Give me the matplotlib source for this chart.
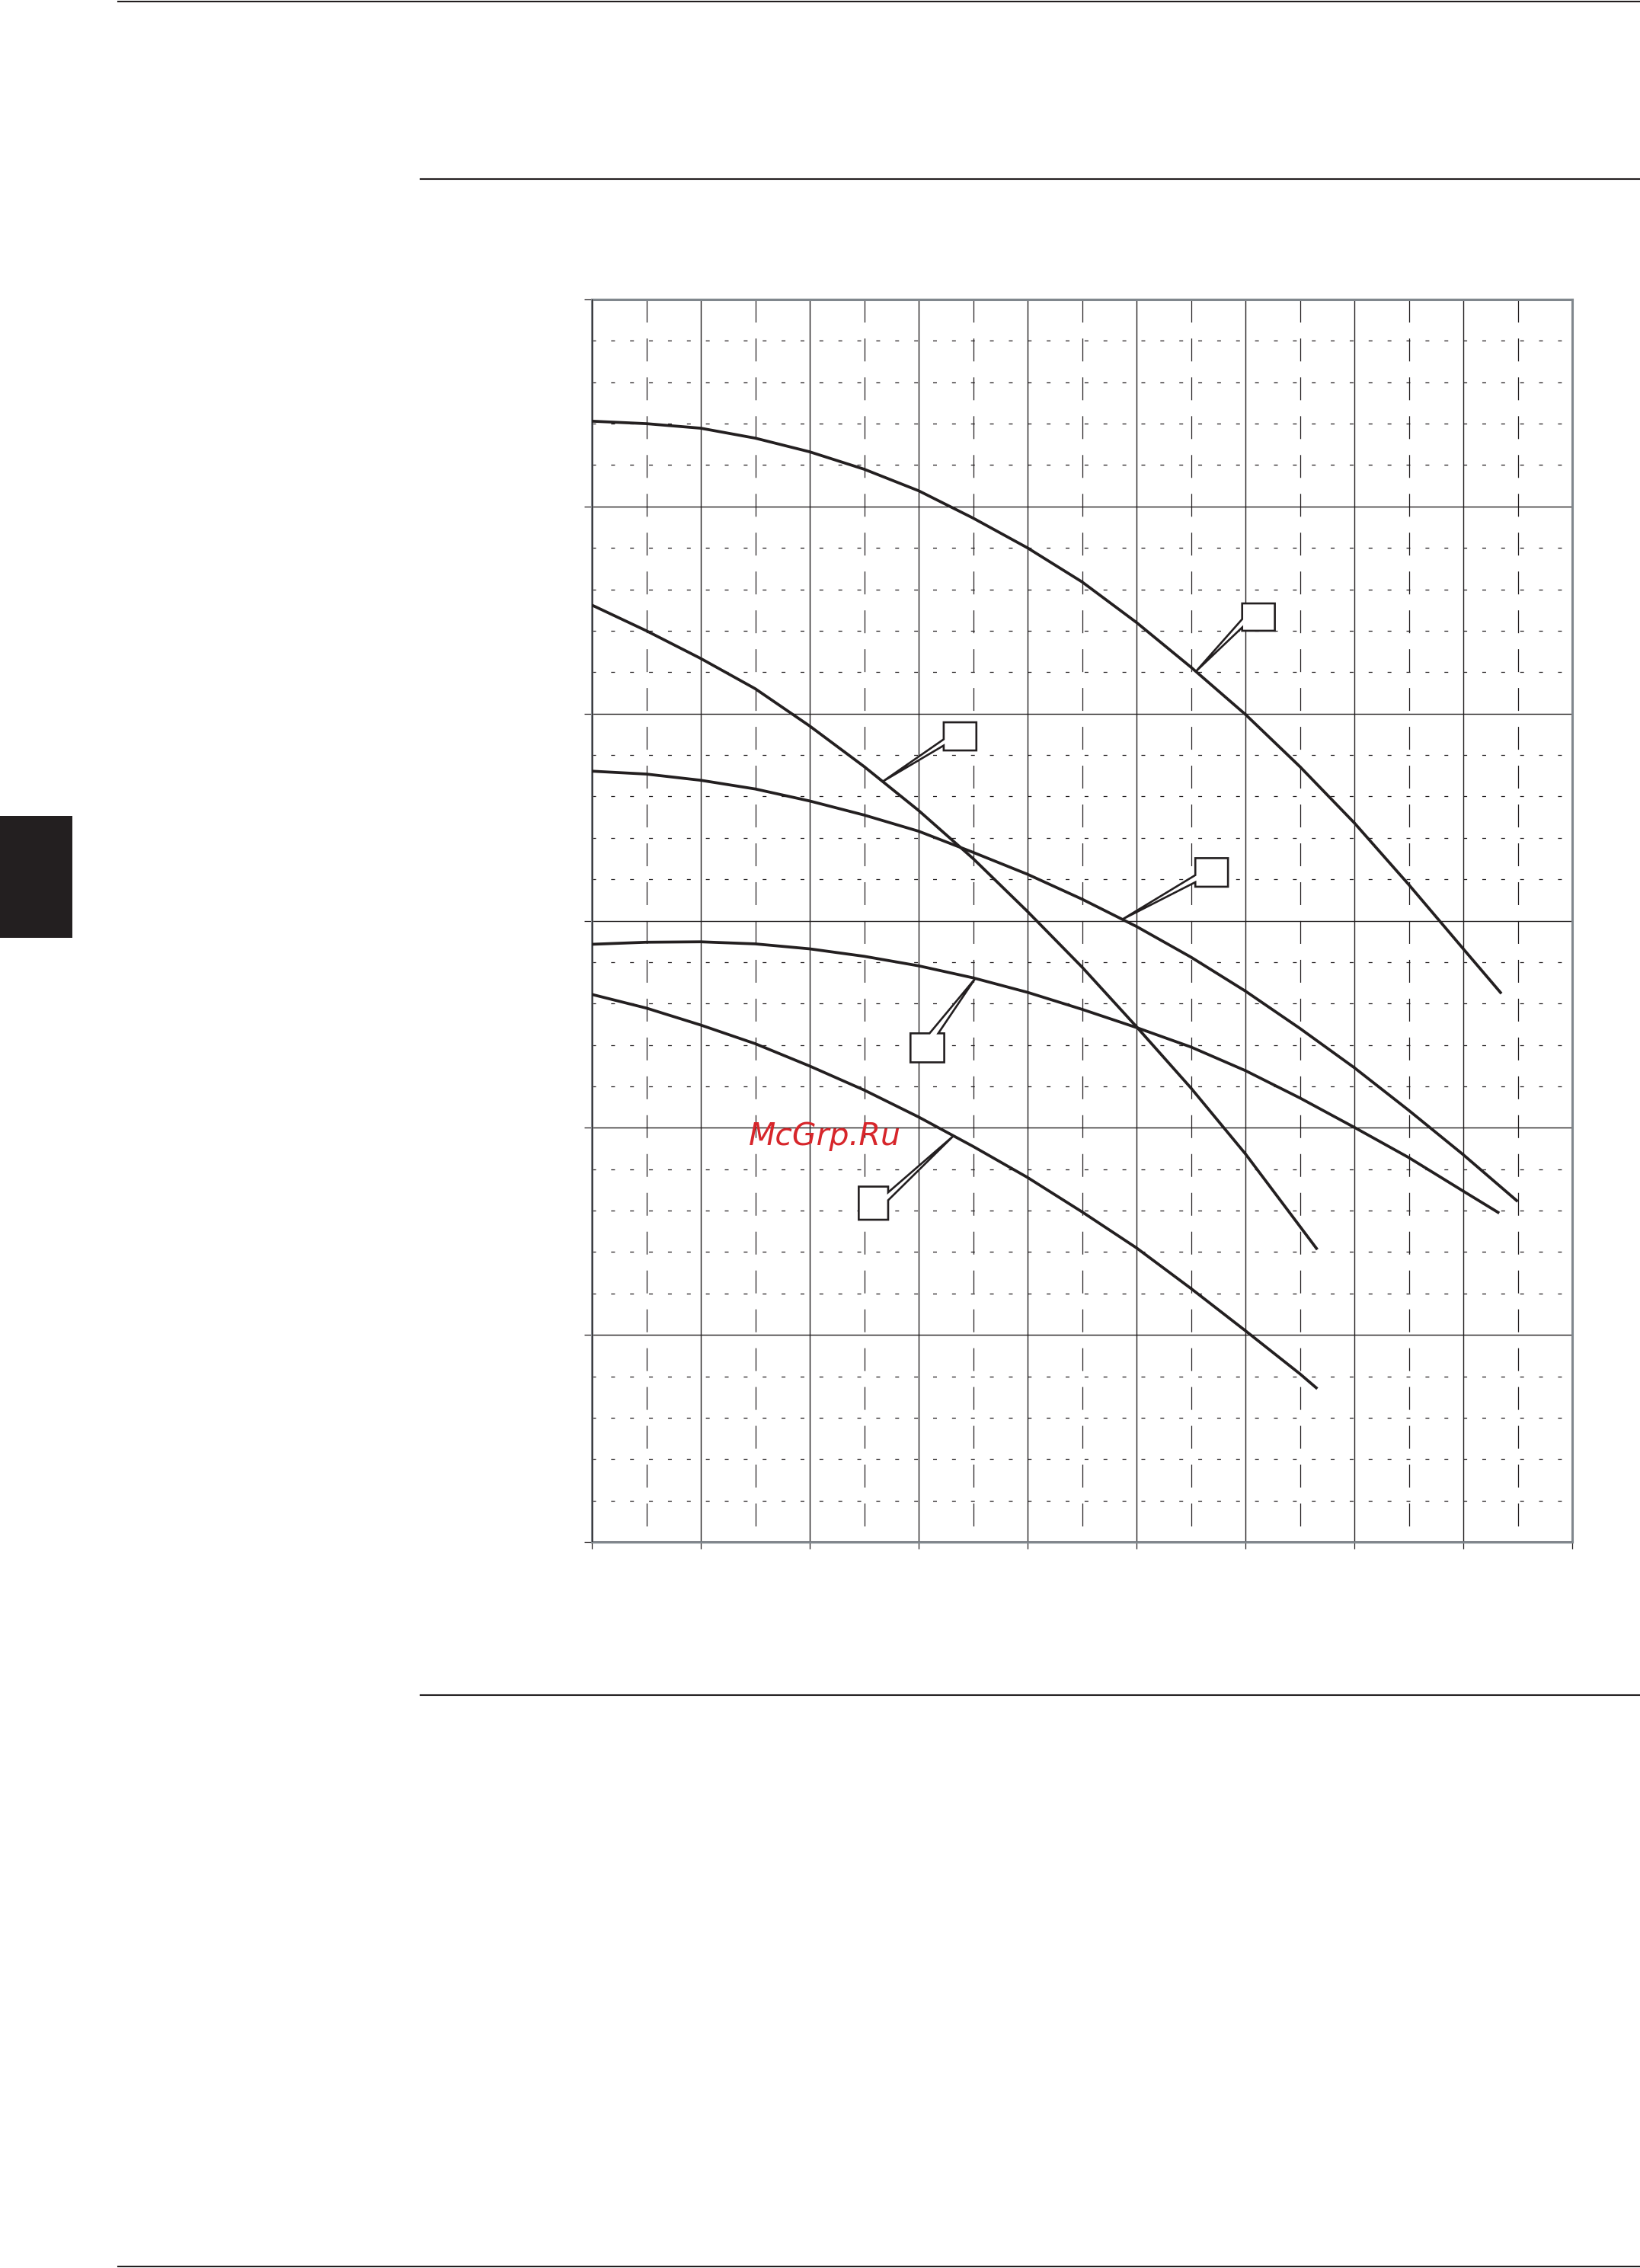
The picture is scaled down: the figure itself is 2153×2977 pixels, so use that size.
#!/usr/bin/env python3
"""Pump curves page: five falling curves on a fine grid, with empty callout boxes."""
import numpy as np
import matplotlib
matplotlib.use('Agg')
import matplotlib.pyplot as plt
from matplotlib.lines import Line2D
from matplotlib.patches import Polygon, Rectangle

plt.rcParams['lines.scale_dashes'] = False

INK = '#231f20'
SPINE = '#80878d'

# --- curve data (x in major divisions, y in minor divisions) ---
c1_x = [0, 0.5, 1.0, 1.5, 2.0, 2.5, 3.0, 3.5, 4.0, 4.5, 5.0, 5.5, 6.0, 6.5, 7.0, 7.5, 8.0, 8.35]
c1_y = [27.06, 27.0, 26.89, 26.65, 26.32, 25.9, 25.38, 24.72, 24.0, 23.18, 22.2, 21.12,
        19.98, 18.72, 17.36, 15.87, 14.32, 13.24]

c2_x = [0, 0.5, 1.0, 1.5, 2.0, 2.5, 3.0, 3.5, 4.0, 4.5, 5.0, 5.5, 6.0, 6.5, 6.66]
c2_y = [22.62, 22.0, 21.33, 20.6, 19.7, 18.72, 17.66, 16.5, 15.22, 13.88, 12.44, 10.96,
        9.37, 7.62, 7.06]

c3_x = [0, 0.5, 1.0, 1.5, 2.0, 2.5, 3.0, 3.5, 4.0, 4.5, 5.0, 5.5, 6.0, 6.5, 7.0, 7.5, 8.0, 8.5]
c3_y = [18.61, 18.54, 18.39, 18.18, 17.89, 17.55, 17.16, 16.65, 16.12, 15.52, 14.86, 14.12,
        13.3, 12.4, 11.45, 10.42, 9.35, 8.22]

c4_x = [0, 0.5, 1.0, 1.5, 2.0, 2.5, 3.0, 3.5, 4.0, 4.5, 5.0, 5.5, 6.0, 6.5, 7.0, 7.5, 8.0, 8.33]
c4_y = [14.43, 14.48, 14.49, 14.44, 14.32, 14.14, 13.91, 13.62, 13.27, 12.86, 12.42, 11.95,
        11.38, 10.72, 10.01, 9.28, 8.47, 7.94]

c5_x = [0, 0.5, 1.0, 1.5, 2.0, 2.5, 3.0, 3.5, 4.0, 4.5, 5.0, 5.5, 6.0, 6.5, 6.66]
c5_y = [13.22, 12.89, 12.48, 12.03, 11.49, 10.91, 10.26, 9.55, 8.8, 7.97, 7.1, 6.12,
        5.1, 4.06, 3.70]

curves = [(c1_x, c1_y), (c2_x, c2_y), (c3_x, c3_y), (c4_x, c4_y), (c5_x, c5_y)]

# callout: curve index, tip x, box (x0, x1, y0, y1), side the tail leaves from, two attach coords
callouts = [
    (0, 5.545, (5.97, 6.27, 22.0, 22.66), 'left', (22.08, 22.28)),
    (1, 2.67, (3.23, 3.53, 19.11, 19.79), 'left', (19.23, 19.38)),
    (2, 4.87, (5.54, 5.84, 15.82, 16.51), 'left', (15.93, 16.10)),
    (3, 3.52, (2.925, 3.235, 11.58, 12.28), 'top', (3.10, 3.18)),
    (4, 3.32, (2.45, 2.72, 7.78, 8.58), 'right', (8.25, 8.44)),
]

W, H = 2153, 2977
fig = plt.figure(figsize=(W / 100, H / 100), dpi=100)
fig.patch.set_facecolor('white')

ax = fig.add_axes([777 / W, 1 - 2024 / H, (2064 - 777) / W, (2024 - 393) / H])
ax.set_xlim(0, 9)
ax.set_ylim(0, 30)
ax.set_xticks(np.arange(0, 10, 1))
ax.set_xticks(np.arange(0.5, 9, 1), minor=True)
ax.set_yticks(np.arange(0, 31, 5))
ax.set_yticks([v for v in range(31) if v % 5], minor=True)
ax.set_xticklabels([])
ax.set_yticklabels([])
ax.tick_params(which='major', direction='out', color=INK, width=0.9)
ax.tick_params(axis='y', which='major', length=7.2)
ax.tick_params(axis='x', which='major', length=6.2)
ax.tick_params(which='minor', length=0)

ax.set_axisbelow(True)
ax.grid(which='major', color=INK, lw=1.0)
ax.grid(which='minor', axis='y', color=INK, lw=0.9, linestyle=(0, (3.6, 14.3)))
ax.grid(which='minor', axis='x', color=INK, lw=0.9, linestyle=(21.6, (21.6, 15.1)))

for s in ax.spines.values():
    s.set_color(SPINE)
    s.set_linewidth(2.2)
ax.axhline(0, color=INK, lw=0.9, zorder=3)
ax.axvline(0, color=INK, lw=0.9, zorder=3)

for xs, ys in curves:
    ax.plot(xs, ys, color=INK, lw=2.7, solid_capstyle='butt',
            solid_joinstyle='round', zorder=4)

# callout boxes with wedge tails
for ci, tip_x, (x0, x1, y0, y1), side, (a, b) in callouts:
    xs, ys = curves[ci]
    tip = (tip_x, np.interp(tip_x, xs, ys))
    if side == 'left':
        pts = [(x0, y1), (x1, y1), (x1, y0), (x0, y0), (x0, a), tip, (x0, b)]
    elif side == 'top':
        pts = [(x0, y0), (x0, y1), (a, y1), tip, (b, y1), (x1, y1), (x1, y0)]
    else:
        pts = [(x0, y0), (x0, y1), (x1, y1), (x1, b), tip, (x1, a), (x1, y0)]
    ax.add_patch(Polygon(pts, closed=True, facecolor='white', edgecolor=INK,
                         lw=1.9, joinstyle='miter', zorder=5))

# page decoration
for (xa, xb, yy) in [(155, W, 1.5), (552, W, 235), (552, W, 2225), (155, W, 2975)]:
    fig.add_artist(Line2D([xa / W, xb / W], [1 - yy / H, 1 - yy / H],
                          transform=fig.transFigure, color=INK, lw=1.5))
fig.patches.append(Rectangle((0, 1 - 1231 / H), 95 / W, 160 / H, transform=fig.transFigure,
                             facecolor=INK, edgecolor='none', figure=fig))

fig.text(983 / W, 1 - 1503 / H, 'McGrp.Ru', color='#d7262b', fontsize=29.5,
         fontstyle='italic', family='DejaVu Sans', ha='left', va='baseline', zorder=10)

fig.savefig('out.png', dpi=100, facecolor='white')
